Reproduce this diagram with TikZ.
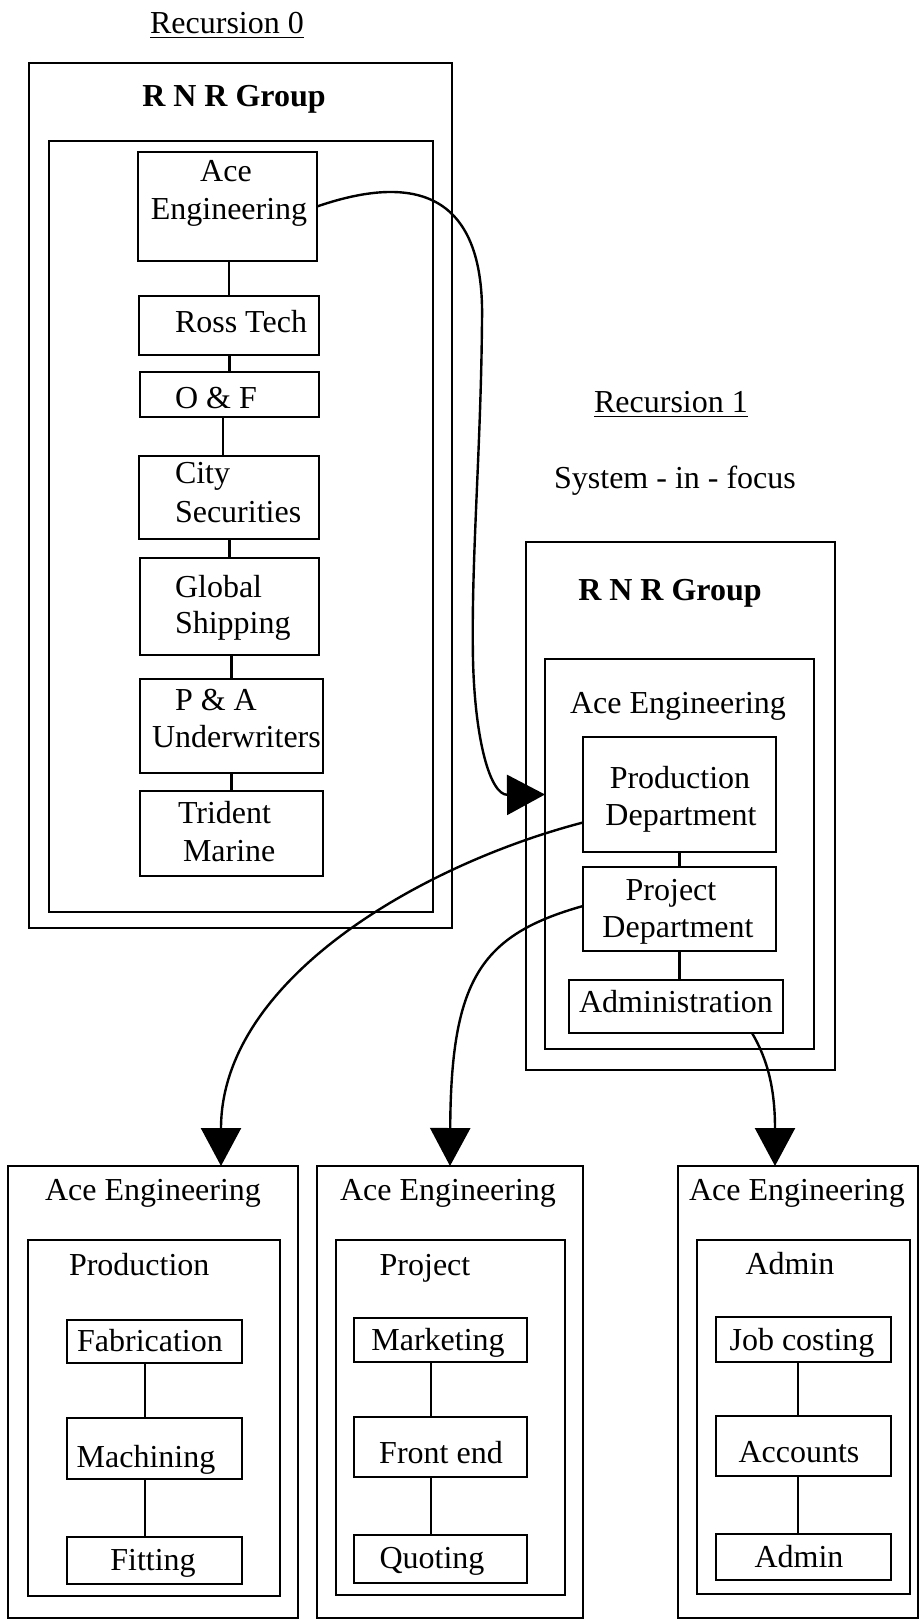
\documentclass[tikz,border=0pt]{standalone}
\usepackage{fontspec}
\setmainfont{Liberation Serif}
\usetikzlibrary{arrows.meta}

% rectangle node spanning (x1,y1)-(x2,y2), named #1
\newcommand\mkbox[5]{\node[frame, minimum width={(#4-#2)*0.5pt}, minimum height={(#5-#3)*0.5pt}] (#1) at (#2,#3) {};}

\tikzset{
  frame/.style={draw, line width=1.2pt, inner sep=0pt, outer sep=0pt, anchor=north west},
  lbl/.style={inner sep=0pt, outer sep=0pt, anchor=base},
  lblw/.style={inner sep=0pt, outer sep=0pt, anchor=base west},
  conn/.style={line width=1.1pt},
  flow/.style={line width=1.2pt, -{Triangle[length=19pt, width=20pt]}},
}

\begin{document}
\begin{tikzpicture}[x=0.5pt, y=-0.5pt, every node/.style={font=\fontsize{16}{19}\selectfont}]
\useasboundingbox (0,0) rectangle (920,1620);

% ---------- Recursion 0 ----------
\node[lbl] (rec0) at (227,34) {\underline{Recursion 0}};
\mkbox{outer0}{29}{63}{452}{928}
\node[lbl, font=\fontsize{16}{19}\selectfont\bfseries] (grp0) at (234,107) {R N R Group};
\mkbox{inner0}{49}{141}{433}{912}

\mkbox{aceA}{138}{152}{317}{261}
\node[lbl] (aceA1) at (226,182) {Ace};
\node[lbl] (aceA2) at (229,220) {Engineering};

\mkbox{ross}{139}{296}{319}{355}
\node[lblw] (rossT) at (175,333) {Ross Tech};

\mkbox{oaf}{140}{372}{319}{417}
\node[lblw] (oafT) at (175,409) {O \& F};

\mkbox{city}{139}{456}{319}{539}
\node[lblw] (cityT1) at (175,483) {City};
\node[lblw] (cityT2) at (175,522) {Securities};

\mkbox{glob}{140}{558}{319}{655}
\node[lblw] (globT1) at (175,597) {Global};
\node[lblw] (globT2) at (175,633) {Shipping};

\mkbox{pau}{140}{679}{323}{773}
\node[lblw] (pauT1) at (175,710) {P \& A};
\node[lblw] (pauT2) at (152,747) {Underwriters};

\mkbox{trid}{140}{791}{323}{876}
\node[lblw] (tridT1) at (178,823) {Trident};
\node[lblw] (tridT2) at (183,861) {Marine};

\draw[conn] (ross.north) -- (ross.north |- aceA.south);
\draw[conn] (oaf.north) -- (oaf.north |- ross.south);
\draw[conn] ([xshift=-3pt]city.north) -- ([xshift=-3pt]city.north |- oaf.south);
\draw[conn] (glob.north) -- (glob.north |- city.south);
\draw[conn] (pau.north) -- (pau.north |- glob.south);
\draw[conn] (trid.north) -- (trid.north |- pau.south);

% ---------- Recursion 1 ----------
\node[lbl] (rec1) at (671,413) {\underline{Recursion 1}};
\node[lbl] (focus) at (675,488) {System - in - focus};
\mkbox{outer1}{526}{542}{835}{1070}
\node[lbl, font=\fontsize{16}{19}\selectfont\bfseries] (grp1) at (670,600) {R N R Group};
\mkbox{inner1}{545}{659}{814}{1049}
\node[lbl] (ace1) at (678,713) {Ace Engineering};

\mkbox{prodD}{583}{737}{776}{852}
\node[lbl] (prodT1) at (680,788) {Production};
\node[lbl] (prodT2) at (681,825) {Department};

\mkbox{projD}{583}{867}{776}{951}
\node[lbl] (projT1) at (671,900) {Project};
\node[lbl] (projT2) at (678,937) {Department};

\mkbox{adminB}{569}{980}{783}{1033}
\node[lbl] (adminT) at (676,1012) {Administration};

\draw[conn] (projD.north) -- (projD.north |- prodD.south);
\draw[conn] (adminB.north -| projD.south) -- (projD.south);

% ---------- Production breakdown ----------
\mkbox{outA}{8}{1166}{298}{1618}
\node[lbl] (aceAT) at (153,1200) {Ace Engineering};
\mkbox{inA}{28}{1240}{280}{1596}
\node[lblw] (prodTitle) at (69,1275) {Production};
\mkbox{fab}{67}{1320}{242}{1363}
\node[lbl] (fabT) at (150,1351) {Fabrication};
\mkbox{mach}{67}{1418}{242}{1479}
\node[lbl] (machT) at (146,1467) {Machining};
\mkbox{fit}{67}{1537}{242}{1584}
\node[lbl] (fitT) at (153,1570) {Fitting};
\draw[conn] ([xshift=-4.75pt]fab.south) -- ([xshift=-4.75pt]mach.north);
\draw[conn] ([xshift=-4.75pt]mach.south) -- ([xshift=-4.75pt]fit.north);

% ---------- Project breakdown ----------
\mkbox{outB}{317}{1166}{583}{1618}
\node[lbl] (aceBT) at (448,1200) {Ace Engineering};
\mkbox{inB}{336}{1240}{565}{1595}
\node[lbl] (projTitle) at (425,1275) {Project};
\mkbox{mkt}{354}{1318}{527}{1362}
\node[lbl] (mktT) at (438,1350) {Marketing};
\mkbox{front}{354}{1417}{527}{1477}
\node[lbl] (frontT) at (441,1463) {Front end};
\mkbox{quot}{354}{1535}{527}{1583}
\node[lbl] (quotT) at (432,1568) {Quoting};
\draw[conn] ([xshift=-4.75pt]mkt.south) -- ([xshift=-4.75pt]front.north);
\draw[conn] ([xshift=-4.75pt]front.south) -- ([xshift=-4.75pt]quot.north);

% ---------- Administration breakdown ----------
\mkbox{outC}{678}{1166}{918}{1618}
\node[lbl] (aceCT) at (797,1200) {Ace Engineering};
\mkbox{inC}{697}{1240}{910}{1594}
\node[lbl] (admTitle) at (790,1274) {Admin};
\mkbox{job}{716}{1317}{891}{1362}
\node[lbl] (jobT) at (802,1350) {Job costing};
\mkbox{acc}{716}{1416}{891}{1476}
\node[lbl] (accT) at (799,1462) {Accounts};
\mkbox{adm}{716}{1534}{891}{1580}
\node[lbl] (admT) at (799,1567) {Admin};
\draw[conn] ([xshift=-2.75pt]job.south) -- ([xshift=-2.75pt]acc.north);
\draw[conn] ([xshift=-2.75pt]acc.south) -- ([xshift=-2.75pt]adm.north);

% ---------- recursion links ----------
\draw[flow] (aceA.east) .. controls (400,178) and (485,180) .. (482,320)
  .. controls (481,450) and (471,560) .. (473,660)
  .. controls (475,740) and (490,795) .. (inner1.west |- prodD.west);
\draw[flow] ([yshift=-14pt]prodD.west) .. controls (420,865) and (221,980) .. ([xshift=34pt]outA.north);
\draw[flow] ([yshift=1.5pt]projD.west) .. controls (480,935) and (451,980) .. (outB.north);
\draw[flow] ([xshift=-15.5pt]adminB.south east) .. controls (768,1060) and (775,1090) .. ([xshift=-11.5pt]outC.north);

\end{tikzpicture}
\end{document}
